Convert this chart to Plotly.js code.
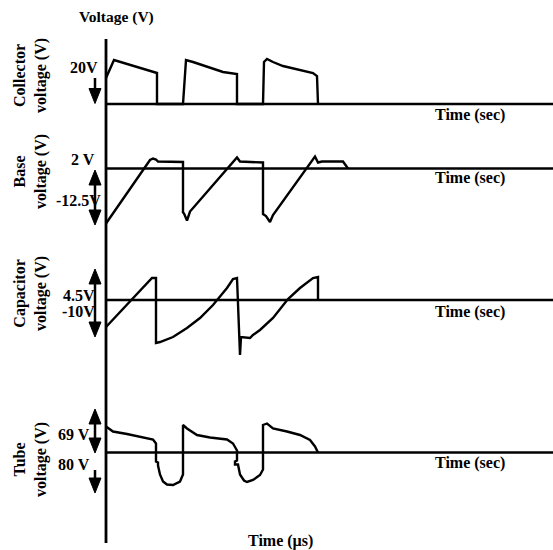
<!DOCTYPE html>
<html>
<head>
<meta charset="utf-8">
<script src="https://cdn.plot.ly/plotly-3.0.1.min.js"></script>
<style>html,body{margin:0;padding:0;background:#fff;}#chart{width:553px;height:550px;}</style>
</head>
<body>
<div id="chart"></div>
<script>
// ---- Data (time in arbitrary units, voltage in arbitrary units relative to each baseline) ----
const collectorT = [0, 8, 51, 51, 77, 80, 87, 101, 117, 131, 131, 157, 158, 161, 167, 177, 194, 207, 211, 212];
const collectorV = [26, 44, 31, 0, 0, 44, 42, 37, 32, 30, 0, 0, 42, 45, 42, 38, 34, 31, 28, 0];

const baseT = [0, 44, 47, 50, 52, 77, 77, 78, 81, 84, 131, 134, 157, 157, 160, 164, 167, 209, 212, 216, 237, 242];
const baseV = [-55, 8.5, 10, 9, 7, 6.5, -44, -45, -52, -43, 11, 7, 6, -45.5, -47.5, -53.5, -46.5, 12, 6, 7, 7, 0];

const capT = [0, 46, 50, 50, 54, 61, 67, 81, 94, 107, 121, 127, 131, 134, 135, 144, 147, 154, 167, 182, 194, 207, 212, 212];
const capV = [-27, 22, 22, -43, -42, -39, -37, -28, -18, -5, 12, 21, 22, -55, -37, -38, -35, -30, -18, 1, 12, 22, 23, 0];

const tubeT = [0, 7, 21, 37, 47, 50, 50, 52, 52, 54, 57, 61, 67, 74, 77, 77, 81, 91, 104, 121, 127, 131, 131, 129, 129, 132, 134, 138, 141, 147, 154, 157, 157, 161, 167, 181, 194, 204, 209, 212];
const tubeV = [26, 21, 18.5, 15, 13, 9, -9, -10, -13, -22, -29, -32, -32.5, -29, -22, 27.5, 24, 17.5, 15, 13, 9, 2, -8, -9, -12, -12, -22, -28, -29.5, -27.5, -22.5, -17, 27.5, 29, 24, 21, 17.5, 12.5, 6, 0];

const panelNames = ['Collector<br>voltage (V)', 'Base<br>voltage (V)', 'Capacitor<br>voltage (V)', 'Tube<br>voltage (V)'];
const levelLabels = [
  ['20V'],
  ['2 V', '-12.5V'],
  ['4.5V', '-10V'],
  ['69 V', '80 V']
];
const xLabel = 'Time (sec)';
const bottomLabel = 'Time (\u00b5s)';
const topLabel = 'Voltage (V)';

// ---- Layout geometry (pixels) ----
const W = 553, H = 550;
const axisPx = 106;                 // vertical axis x position
const baselinePx = [104, 168.5, 300, 452.5];
const yrefs = ['y', 'y2', 'y3', 'y4'];
const series = [[collectorT, collectorV], [baseT, baseV], [capT, capV], [tubeT, tubeV]];

const traces = series.map((s, i) => ({
  x: s[0], y: s[1], xaxis: 'x', yaxis: yrefs[i],
  mode: 'lines', line: {color: '#000', width: 2.4}, hoverinfo: 'skip'
}));

const font = {family: '"Liberation Serif"', size: 16, color: '#000', weight: 'bold'};
const shapes = [];
const annotations = [];

// baselines
yrefs.forEach(yr => {
  shapes.push({type: 'line', xref: 'x', yref: yr, x0: 0, x1: W - axisPx, y0: 0, y1: 0,
    line: {color: '#000', width: 2.6}});
});
// vertical axis (in collector panel units)
shapes.push({type: 'line', xref: 'x', yref: 'y', x0: 0, x1: 0, y0: baselinePx[0] - 543, y1: baselinePx[0] - 39,
  line: {color: '#000', width: 2.8}});

// arrows: [panel, tail/top, tip/bottom, double?]
const arrowX = -11;
const arrows = [
  [0, 26, 0.5, false],
  [1, -1.5, -56.5, true],
  [2, 31, -37, true],
  [3, 43.5, -0.5, true],
  [3, -17.5, -40.5, false]
];
const headL = 15, headW = 6;
function tri(x, tipY, dir) { // dir = -1 pointing down, +1 pointing up
  const b = tipY - dir * headL;
  return `M${x - headW},${b} L${x + headW},${b} L${x},${tipY} Z`;
}
arrows.forEach(a => {
  const yr = yrefs[a[0]];
  shapes.push({type: 'line', xref: 'x', yref: yr, x0: arrowX, x1: arrowX, y0: a[1] - (a[3] ? 5 : 0), y1: a[2] + 5,
    line: {color: '#000', width: 2.5}});
  shapes.push({type: 'path', xref: 'x', yref: yr, path: tri(arrowX, a[2], -1),
    fillcolor: '#000', line: {color: '#000', width: 1}});
  if (a[3]) shapes.push({type: 'path', xref: 'x', yref: yr, path: tri(arrowX, a[1], 1),
    fillcolor: '#000', line: {color: '#000', width: 1}});
});

// level labels
const levelPos = [
  [[-6, 37]],
  [[-9, 9.5], [-3, -32]],
  [[-9, 5], [-9, -11]],
  [[-14, 18.5], [-14, -11.5]]
];
levelLabels.forEach((labs, i) => labs.forEach((t, j) => {
  annotations.push({text: t, xref: 'x', yref: yrefs[i], x: levelPos[i][j][0], y: levelPos[i][j][1],
    xanchor: 'right', yanchor: 'middle', showarrow: false, font: font});
}));

// panel names (rotated)
const namePos = [[-76, 28], [-76, -3.5], [-76, 6], [-76, -7.5]];
panelNames.forEach((t, i) => {
  annotations.push({text: t, xref: 'x', yref: yrefs[i], x: namePos[i][0], y: namePos[i][1],
    textangle: -90, xanchor: 'center', yanchor: 'middle', showarrow: false, font: font});
});

// time labels per panel
const timeY = [-11, -9.5, -11.5, -10.5];
yrefs.forEach((yr, i) => {
  annotations.push({text: xLabel, xref: 'x', yref: yr, x: 327, y: timeY[i],
    xanchor: 'left', yanchor: 'middle', showarrow: false, font: font});
});
annotations.push({text: topLabel, xref: 'x', yref: 'y', x: 10, y: 87,
  xanchor: 'center', yanchor: 'middle', showarrow: false, font: Object.assign({}, font, {size: 15.5})});
annotations.push({text: bottomLabel, xref: 'x', yref: 'y4', x: 174, y: -88.5,
  xanchor: 'center', yanchor: 'middle', showarrow: false, font: font});

const hidden = {visible: false, fixedrange: true};
const layout = {
  width: W, height: H, margin: {l: 0, r: 0, t: 0, b: 0, pad: 0},
  paper_bgcolor: '#fff', plot_bgcolor: '#fff', showlegend: false,
  font: {family: '"Liberation Serif"'},
  xaxis: Object.assign({range: [-axisPx, W - axisPx], domain: [0, 1]}, hidden),
  shapes: shapes, annotations: annotations
};
yrefs.forEach((yr, i) => {
  const key = i === 0 ? 'yaxis' : 'yaxis' + (i + 1);
  const ax = Object.assign({range: [baselinePx[i] - H, baselinePx[i]], domain: [0, 1]}, hidden);
  if (i > 0) ax.overlaying = 'y';
  layout[key] = ax;
});

Plotly.newPlot('chart', traces, layout, {staticPlot: true, displayModeBar: false});
</script>
</body>
</html>
